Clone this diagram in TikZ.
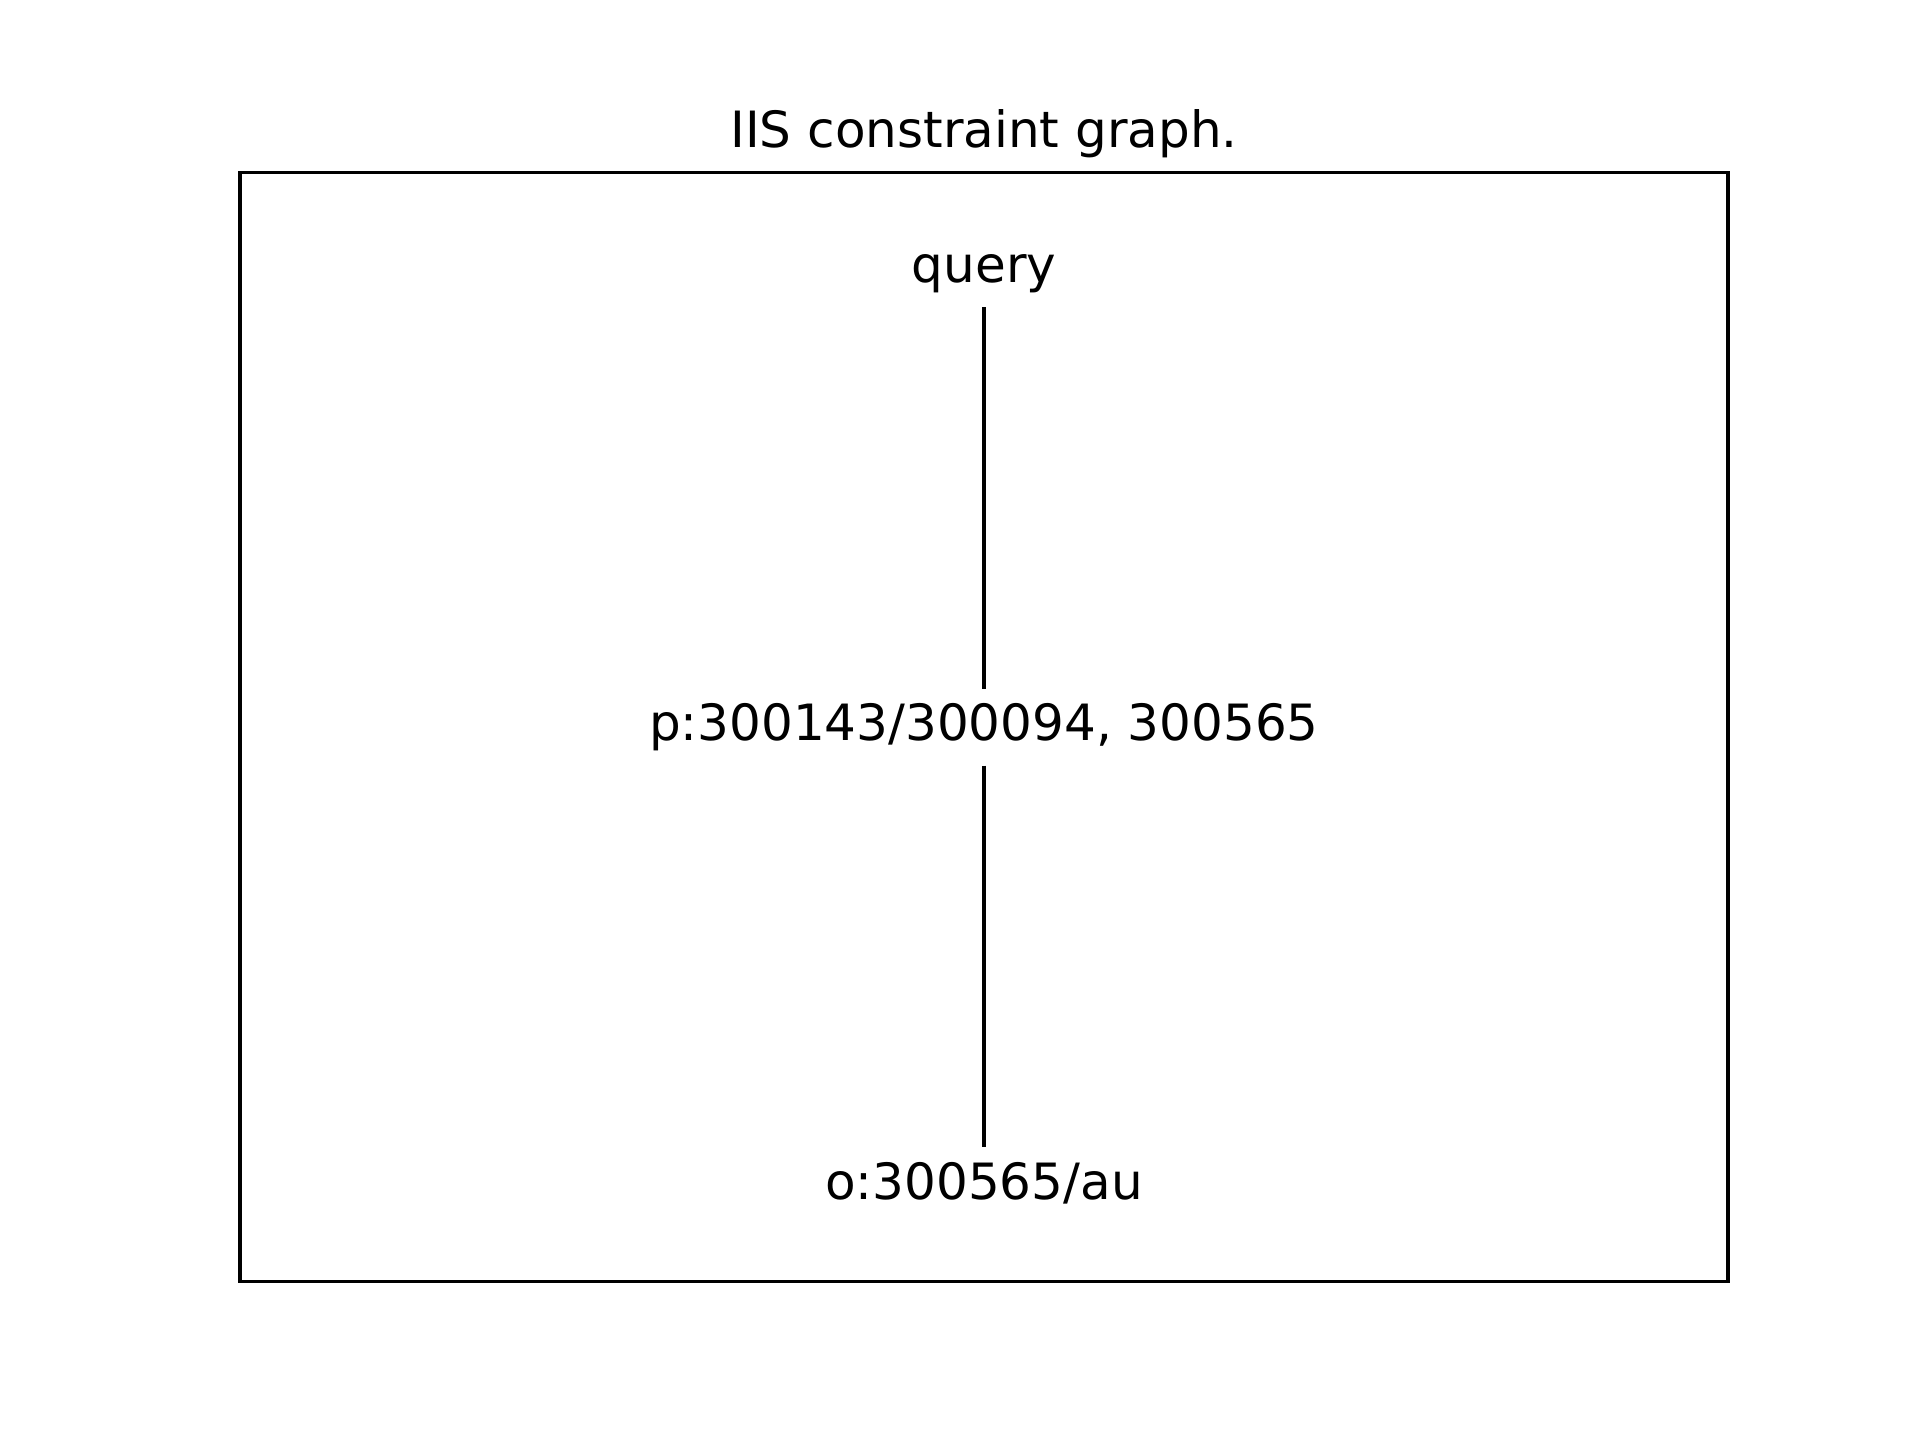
\documentclass[tikz,border=0pt]{standalone}
\usepackage{fontspec}
\setmainfont{DejaVu Sans}
\begin{document}
\begin{tikzpicture}[x=1pt,y=1pt,
  lbl/.style={inner sep=0pt, outer sep=0pt, font=\fontsize{12}{14.4}\selectfont,
    text height=9.12pt, text depth=2.5pt},
  edge/.style={line width=1pt, black, shorten <=9.24pt, shorten >=9.24pt},
  spine/.style={line width=0.8pt, black}]
\useasboundingbox (0,0) rectangle (460.8,345.6);
\draw[spine] (57.6,38.016) rectangle (414.72,304.128);
\node[anchor=base, inner sep=0pt, font=\fontsize{12}{14.4}\selectfont] (title) at (236.16,310.128) {IIS constraint graph.};
\node[lbl] (q) at (236.16,281.07) {query};
\node[lbl] (p) at (236.16,171.07) {p:300143/300094, 300565};
\node[lbl] (o) at (236.16,61.07) {o:300565/au};
\draw[edge] (q.center) -- (p.center);
\draw[edge] (p.center) -- (o.center);
\end{tikzpicture}
\end{document}
